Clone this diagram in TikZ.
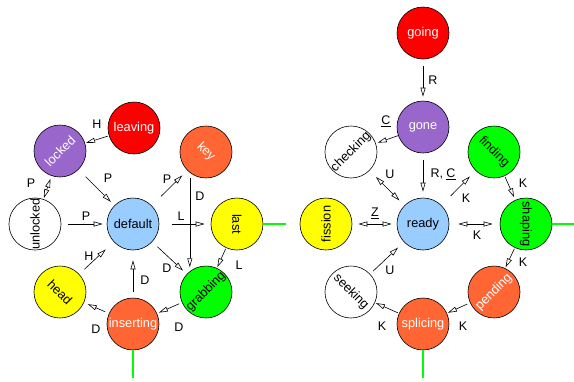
\documentclass[tikz,border=0pt]{standalone}
\usepackage{fontspec}
\setmainfont{Liberation Sans}
\usetikzlibrary{arrows.meta}
\definecolor{cred}{HTML}{FF0000}
\definecolor{cpurple}{HTML}{9966CC}
\definecolor{corange}{HTML}{FF6633}
\definecolor{cyellow}{HTML}{FFFF00}
\definecolor{cgreen}{HTML}{00FF00}
\definecolor{cblue}{HTML}{99CCFF}
\tikzset{
  state/.style={circle, draw=black, line width=0.6pt, minimum size=52pt, inner sep=0pt, font=\fontsize{12.8}{14}\selectfont},
  dark/.style={state, text=white},
  tr/.style={-{Triangle[open, length=9pt, width=5pt]}, line width=0.6pt},
  dtr/.style={{Triangle[open, length=9pt, width=5pt]}-{Triangle[open, length=9pt, width=5pt]}, line width=0.6pt},
  lbl/.style={font=\fontsize{12.5}{14}\selectfont, inner sep=0pt},
  tail/.style={draw=cgreen, line width=1.2pt},
}
\begin{document}
\begin{tikzpicture}[x=1pt, y=-1pt]
\useasboundingbox (0,0) rectangle (574,381);
% left cluster
\node[state, fill=cblue] (default) at (133,224) {default};
\node[dark, fill=cred] (leaving) at (134,128) {leaving};
\node[dark, fill=cpurple, rotate=45] (locked) at (60,151) {locked};
\node[dark, fill=corange, rotate=-45] (key) at (206,152) {key};
\node[state, fill=white, rotate=90] (unlocked) at (35,224) {unlocked};
\node[state, fill=cyellow, rotate=-90] (last) at (237,224) {last};
\node[state, fill=cyellow, rotate=-45] (head) at (60,292) {head};
\node[state, fill=cgreen, rotate=45] (grabbing) at (206,292) {grabbing};
\node[dark, fill=corange] (inserting) at (133,324) {inserting};
% right cluster
\node[state, fill=cblue] (ready) at (423,224) {ready};
\node[dark, fill=cred] (going) at (423,33) {going};
\node[dark, fill=cpurple] (gone) at (423,127) {gone};
\node[state, fill=white, rotate=45] (checking) at (351,152) {checking};
\node[state, fill=cgreen, rotate=-45] (finding) at (494,152) {finding};
\node[state, fill=cyellow, rotate=90] (fission) at (326,224) {fission};
\node[state, fill=cgreen, rotate=-90] (shaping) at (526,224) {shaping};
\node[state, fill=white, rotate=-45] (seeking) at (351,292) {seeking};
\node[dark, fill=corange, rotate=45] (pending) at (494,292) {pending};
\node[dark, fill=corange] (splicing) at (423,324) {splicing};
% green tails
\coordinate (t1) at (286,224);
\coordinate (t2) at (133,378);
\coordinate (t3) at (574,224);
\coordinate (t4) at (423,378);
\draw[tail] (last) -- (t1);
\draw[tail] (inserting) -- (t2);
\draw[tail] (shaping) -- (t3);
\draw[tail] (splicing) -- (t4);
% left edges
\draw[tr, shorten <=1pt, shorten >=1pt] (leaving) -- (locked);
\draw[dtr, shorten <=3pt, shorten >=1pt] (locked) -- (unlocked);
\draw[tr, shorten <=10pt, shorten >=5pt] (locked) -- (default);
\draw[tr, shorten <=7pt, shorten >=4pt] (unlocked) -- (default);
\draw[tr, shorten <=13pt, shorten >=7pt] (default) -- (key);
\draw[tr, shorten <=5pt, shorten >=4pt] (key.-83) -- (grabbing.83);
\draw[tr, shorten <=13pt, shorten >=6pt] (default) -- (last);
\draw[tr, shorten <=7pt, shorten >=5pt] (default) -- (grabbing);
\draw[tr, shorten <=1pt, shorten >=1pt] (last) -- (grabbing);
\draw[tr, shorten <=7pt, shorten >=11pt] (head) -- (default);
\draw[tr, shorten <=6pt, shorten >=10pt] (inserting) -- (default);
\draw[tr, shorten <=3pt, shorten >=2pt] (grabbing) -- (inserting);
\draw[tr, shorten <=4pt, shorten >=4pt] (inserting) -- (head);
% right edges
\draw[tr, shorten <=7pt, shorten >=4pt] (going) -- (gone);
\draw[tr, shorten <=0pt, shorten >=2pt] (gone) -- (checking);
\draw[dtr, shorten <=9pt, shorten >=7pt] (checking) -- (ready);
\draw[tr, shorten <=7pt, shorten >=6pt] (gone) -- (ready);
\draw[tr, shorten <=13pt, shorten >=8pt] (ready) -- (finding);
\draw[tr, shorten <=1pt, shorten >=3pt] (finding) -- (shaping);
\draw[dtr, shorten <=9pt, shorten >=7pt] (ready) -- (shaping);
\draw[dtr, shorten <=6pt, shorten >=5pt] (fission) -- (ready);
\draw[tr, shorten <=1pt, shorten >=1pt] (shaping) -- (pending);
\draw[tr, shorten <=3pt, shorten >=1pt] (pending) -- (splicing);
\draw[tr, shorten <=1pt, shorten >=1pt] (splicing) -- (seeking);
\draw[tr, shorten <=4pt, shorten >=8pt] (seeking) -- (ready);
% labels left
\node[lbl] (l1) at (97,124) {H};
\node[lbl] (l2) at (31,183) {P};
\node[lbl] (l3) at (108,178) {P};
\node[lbl] (l4) at (86,216) {P};
\node[lbl] (l5) at (167,179) {P};
\node[lbl] (l6) at (200,196) {D};
\node[lbl] (l7) at (181,216) {L};
\node[lbl] (l8) at (167,268) {D};
\node[lbl] (l9) at (239,265) {L};
\node[lbl] (l10) at (89,256) {H};
\node[lbl] (l11) at (145,280) {D};
\node[lbl] (l12) at (179,327) {D};
\node[lbl] (l13) at (96,329) {D};
% labels right
\node[lbl] (r1) at (433,80) {R};
\node[lbl] (r2) at (386,121) {\underline{C}};
\node[lbl] (r3) at (390,174) {U};
\node[lbl] (r4) at (443,174) {R, \underline{C}};
\node[lbl] (r5) at (466,198) {K};
\node[lbl] (r6) at (523,183) {K};
\node[lbl] (r7) at (477,235) {K};
\node[lbl] (r8) at (375,213) {\underline{Z}};
\node[lbl] (r9) at (523,262) {K};
\node[lbl] (r10) at (463,326) {K};
\node[lbl] (r11) at (382,326) {K};
\node[lbl] (r12) at (390,270) {U};
\end{tikzpicture}
\end{document}
